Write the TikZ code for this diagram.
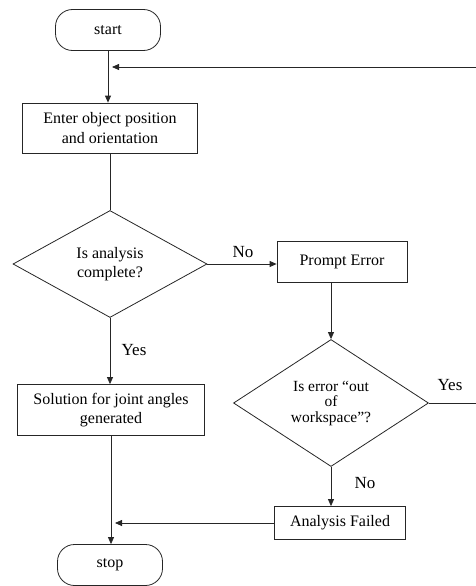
\documentclass[tikz,border=0pt]{standalone}
\usepackage{fontspec}
\setmainfont{Liberation Serif}
\usetikzlibrary{shapes.geometric,arrows.meta}

\tikzset{
  base/.style={draw=black!85, line width=0.8pt, inner sep=0pt, align=center,
    font=\fontsize{16}{19.5}\selectfont},
  terminal/.style={base, rectangle, rounded corners=17pt,
    minimum width=105pt, minimum height=41pt},
  procbox/.style={base, rectangle},
  decision/.style={base, diamond},
  flow/.style={draw=black!85, line width=0.8pt,
    -{Triangle[length=7pt,width=6pt]}},
  plain/.style={draw=black!85, line width=0.8pt},
  lbl/.style={font=\fontsize{17}{20}\selectfont, inner sep=0pt}
}

\begin{document}
\begin{tikzpicture}[x=1pt,y=-1pt]
  \useasboundingbox (0,0) rectangle (476,586);
  \clip (0,0) rectangle (476,586);

  % left column
  \node[terminal] (start) at (108,30) {start};
  \node[procbox, minimum width=175pt, minimum height=50pt] (enter) at (110,128)
    {Enter object position\\and orientation};
  \node[decision, minimum width=194pt, minimum height=107pt] (d1) at (110,264)
    {Is analysis\\complete?};
  \node[procbox, minimum width=187pt, minimum height=51pt] (sol) at (111,410)
    {Solution for joint angles\\generated};
  \node[terminal] (stop) at (110,565) {stop};

  % right column
  \node[procbox, minimum width=130pt, minimum height=41pt] (prompt) at (342,262)
    {Prompt Error};
  \node[decision, minimum width=195pt, minimum height=127pt,
        font=\fontsize{15.5}{15.5}\selectfont] (d2) at (331,403)
    {Is error “out\\of\\workspace”?};
  \node[procbox, minimum width=131pt, minimum height=33pt] (failed) at (340,523)
    {Analysis Failed};

  % loose ends of the return lines
  \coordinate (loopend) at (112,67);
  \coordinate (failend) at (115,523);

  % connectors
  \draw[flow] (start.south) -- (start.south |- enter.north);
  \draw[plain] (enter.south) -- (d1.north);
  \draw[flow] (d1.south) -- (d1.south |- sol.north);
  \draw[flow] (sol.south) -- (sol.south |- stop.north);
  \draw[flow] (d1.east) -- (d1.east -| prompt.west);
  \draw[flow] (prompt.south -| d2.north) -- (d2.north);
  \draw[flow] (d2.south) -- (d2.south |- failed.north);
  \draw[flow] (failed.west) -- (failend);
  \draw[flow] (d2.east) -- (480,403) -- (480,67) -- (loopend);

  % branch labels
  \node[lbl] (no1) at (243,252) {No};
  \node[lbl] (yes1) at (134,350) {Yes};
  \node[lbl] (yes2) at (450,385) {Yes};
  \node[lbl] (no2) at (365,483) {No};
\end{tikzpicture}
\end{document}
